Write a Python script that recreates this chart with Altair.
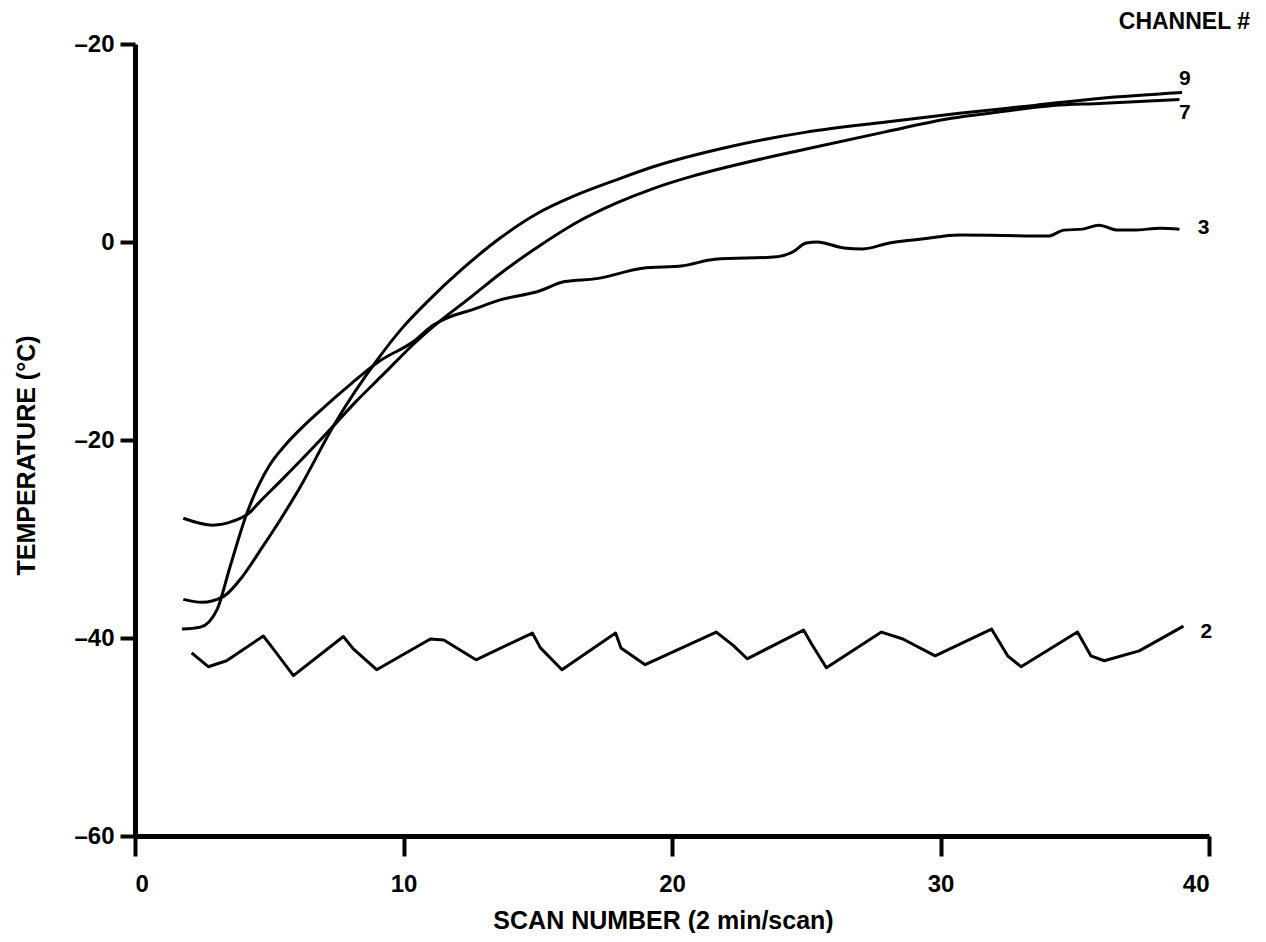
import altair as alt
import pandas as pd

# ---- data ----
ch9_x = [1.8, 2.5, 3.3, 4.0, 4.7, 5.4, 6.1, 7.45, 9.05, 9.95, 10.9, 12.2, 13.6, 15.0, 16.4, 17.9, 19.3, 22.1, 25.0, 27.9, 30.7, 33.5, 35.9, 39.0]
ch9_y = [-36.1, -36.4, -35.8, -33.8, -31.0, -28.1, -25.0, -18.3, -11.8, -8.7, -6.0, -2.7, 0.4, 2.9, 4.7, 6.25, 7.6, 9.6, 11.1, 12.1, 13.0, 13.8, 14.5, 15.1]

ch7_x = [1.8, 2.9, 3.65, 4.28, 4.66, 5.4, 6.9, 7.45, 8.2, 9.2, 10.5, 11.4, 12.4, 13.6, 15.0, 16.4, 17.9, 19.3, 20.7, 22.1, 25.0, 27.9, 30.4, 32.1, 34.2, 35.9, 38.9]
ch7_y = [-27.9, -28.6, -28.2, -27.3, -26.2, -24.2, -20.0, -18.4, -16.2, -13.5, -10.0, -7.9, -5.8, -3.2, -0.5, 1.9, 3.9, 5.4, 6.6, 7.6, 9.4, 11.1, 12.5, 13.1, 13.8, 14.0, 14.4]

ch3_x = [1.75, 2.43, 3.06, 3.54, 4.18, 4.6, 5.0, 5.6, 6.2, 6.83, 8.1, 9.07, 10.45, 11.0, 11.7, 12.6, 13.6, 14.7, 15.0, 16.0, 17.2, 18.9, 20.4, 21.6, 23.9, 24.5, 25.0, 25.4, 26.4, 27.1, 28.1, 29.3, 30.7, 34.0, 34.6, 35.3, 35.9, 36.6, 37.2, 38.2, 38.9]
ch3_y = [-39.1, -38.9, -37.1, -32.8, -27.3, -24.6, -22.6, -20.5, -18.8, -17.2, -14.2, -12.1, -9.9, -8.6, -7.6, -6.8, -5.85, -5.2, -5.0, -4.0, -3.7, -2.65, -2.4, -1.75, -1.5, -1.0, -0.1, 0.0, -0.6, -0.7, -0.1, 0.3, 0.7, 0.6, 1.2, 1.3, 1.7, 1.2, 1.2, 1.4, 1.3]

ch2_x = [2.11, 2.73, 3.41, 4.78, 5.15, 5.9, 7.76, 8.13, 9.0, 11.0, 11.5, 12.7, 14.8, 15.1, 15.9, 17.9, 18.1, 19.0, 21.65, 22.3, 22.8, 24.9, 25.2, 25.75, 27.8, 28.6, 29.8, 31.9, 32.5, 33.0, 35.1, 35.6, 36.1, 37.4, 39.05]
ch2_y = [-41.5, -42.9, -42.3, -39.8, -41.1, -43.8, -39.85, -41.1, -43.2, -40.1, -40.2, -42.2, -39.5, -41.0, -43.2, -39.5, -41.0, -42.7, -39.4, -40.8, -42.1, -39.2, -40.6, -43.0, -39.4, -40.1, -41.8, -39.1, -41.8, -42.9, -39.4, -41.8, -42.3, -41.3, -38.8]

label_text = ["9", "7", "3", "2"]
label_x = [39.1, 39.1, 39.8, 39.9]
label_y = [16.5, 13.0, 1.4, -39.4]

x_ticks = [0, 10, 20, 30, 40]
y_ticks = [-60, -40, -20, 0, 20]

FONT = "Liberation Sans"


def frame(name, xs, ys):
    return pd.DataFrame({"scan": xs, "temp": ys, "channel": name, "order": range(len(xs))})


smooth_df = pd.concat([frame("9", ch9_x, ch9_y), frame("7", ch7_x, ch7_y), frame("3", ch3_x, ch3_y)])
rough_df = frame("2", ch2_x, ch2_y)
labels_df = pd.DataFrame({"scan": label_x, "temp": label_y, "text": label_text})

xscale = alt.Scale(domain=[0, 40], nice=False, zero=False)
yscale = alt.Scale(domain=[-60, 20], nice=False, zero=False)

xenc = alt.X(
    "scan:Q",
    scale=xscale,
    axis=alt.Axis(
        values=x_ticks,
        title="SCAN NUMBER (2 min/scan)",
        tickSize=20,
        labelPadding=16,
        titlePadding=12,
        titleX=528,
        titleFontSize=25,
    ),
)
yenc = alt.Y(
    "temp:Q",
    scale=yscale,
    axis=alt.Axis(
        values=y_ticks,
        title="TEMPERATURE (°C)",
        tickSize=15,
        labelPadding=6,
        titlePadding=34,
        titleY=411,
        titleFontSize=25,
        labelExpr="datum.value == 0 ? '0' : '\u2013' + abs(datum.value)",
    ),
)

smooth = (
    alt.Chart(smooth_df)
    .mark_line(color="black", strokeWidth=3, interpolate="monotone")
    .encode(x=xenc, y=yenc, detail="channel:N", order="order:Q")
)
rough = (
    alt.Chart(rough_df)
    .mark_line(color="black", strokeWidth=3, interpolate="linear", strokeJoin="round")
    .encode(x="scan:Q", y="temp:Q", detail="channel:N", order="order:Q")
)
labels = (
    alt.Chart(labels_df)
    .mark_text(font=FONT, fontSize=21, fontWeight="bold", color="black", align="center", baseline="middle")
    .encode(x="scan:Q", y="temp:Q", text="text:N")
)

chart = (
    alt.layer(smooth, rough, labels)
    .properties(
        width=1074,
        height=792,
        autosize=alt.AutoSizeParams(type="none"),
        padding={"left": 127, "top": 36, "right": 48, "bottom": 97},
        title=alt.Title(
            "CHANNEL #",
            anchor="end",
            frame="group",
            dx=41,
            dy=16,
            offset=14,
            font=FONT,
            fontSize=23,
            fontWeight="bold",
            color="black",
        ),
    )
    .configure_view(stroke=None)
    .configure_axis(
        grid=False,
        domainColor="black",
        domainWidth=5,
        tickColor="black",
        tickWidth=4,
        labelFont=FONT,
        labelFontSize=24,
        labelFontWeight="bold",
        labelColor="black",
        titleFont=FONT,
        titleFontWeight="bold",
        titleColor="black",
    )
)

chart.save("out.html", embed_options={"renderer": "svg", "actions": False})
